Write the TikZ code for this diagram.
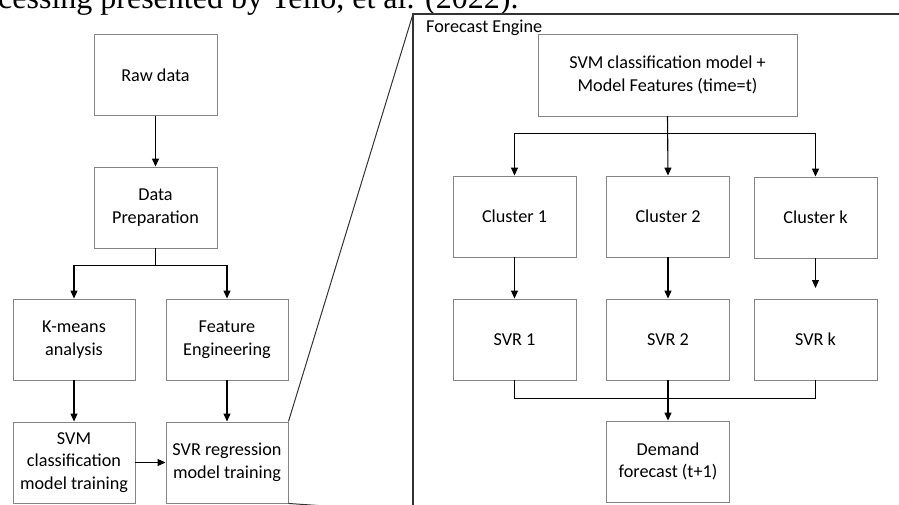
\documentclass[tikz,border=0pt]{standalone}
\usepackage{fontspec}
\setmainfont{Carlito}
\newfontfamily\capfont{Liberation Serif}
\usetikzlibrary{arrows.meta}
\definecolor{boxgray}{HTML}{858585}
\definecolor{framegray}{HTML}{333333}
\tikzset{
  box/.style={draw=boxgray, line width=0.9pt, minimum width=123pt, minimum height=81pt,
    align=center, inner sep=2pt, font=\fontsize{18.2}{22.5}\selectfont},
  arr/.style={draw=black, line width=1.1pt, -{Triangle[length=8pt,width=7pt]}},
  ln/.style={draw=black, line width=1.1pt},
  frm/.style={draw=framegray, line width=1.3pt}
}
\begin{document}
\begin{tikzpicture}[x=1pt,y=-1pt]
\useasboundingbox (0,0) rectangle (899,504);
\clip (0,0) rectangle (899,504);
% caption fragment
\node[anchor=base west, inner sep=0pt, font=\capfont\fontsize{32}{36}\selectfont] (cap) at (-2,8) {cessing presented by Tello, et al. (2022).};
% left column
\node[box] (raw) at (155.5,75) {Raw data};
\node[box] (prep) at (155.5,207.5) {Data\\Preparation};
\node[box, minimum width=122pt] (kmeans) at (74,339.5) {K-means\\analysis};
\node[box, minimum width=122pt] (feat) at (227,339.5) {Feature\\Engineering};
\node[box, minimum width=122pt] (svmc) at (74,462.5) {SVM\\classification\\model training};
\node[box, minimum width=122pt] (svrr) at (227,462.5) {SVR regression\\model training};
\draw[arr] (raw.south) -- (prep.north);
\draw[arr] (prep.south) -- ++(0,17) -| (kmeans.north);
\draw[arr] (prep.south) -- ++(0,17) -| (feat.north);
\draw[arr] (kmeans.south) -- (svmc.north);
\draw[arr] (feat.south) -- (svrr.north);
\draw[arr] (svmc.east) -- (svrr.west);
% forecast engine frame
\coordinate (ftl) at (413,14);
\coordinate (fbl) at (413,512);
\coordinate (ftr) at (905,14);
\draw[frm] (fbl) -- (ftl) -- (ftr);
\draw[frm, line width=1pt] (svrr.north east) -- (ftl);
\draw[frm, line width=1pt] (svrr.south east) -- (fbl);
\node[anchor=base west, inner sep=0pt, font=\fontsize{18.2}{22}\selectfont] (fe) at (426,32) {Forecast Engine};
% right side
\node[box, minimum width=259pt, minimum height=82pt] (svm) at (667.5,75) {SVM classification model +\\Model Features (time=t)};
\node[box] (c1) at (514.5,216.5) {Cluster 1};
\node[box] (c2) at (668,216.5) {Cluster 2};
\node[box] (ck) at (815.5,217.5) {Cluster k};
\node[box] (s1) at (514.5,339.5) {SVR 1};
\node[box] (s2) at (668,339.5) {SVR 2};
\node[box] (sk) at (815.5,339.5) {SVR k};
\node[box] (dem) at (668,461.5) {Demand\\forecast (t+1)};
\draw[arr] (svm.south) -- ++(0,17) -| (c1.north);
\draw[arr] (svm.south) -- (c2.north);
\draw[arr] (svm.south) -- ++(0,17) -| (ck.north);
\draw[arr] (c1.south) -- (s1.north);
\draw[arr] (c2.south) -- (s2.north);
\coordinate (ckend) at (815.5,288);
\draw[arr] (ck.south) -- (ckend);
\draw[ln] (s1.south) -- ++(0,18) -| (sk.south);
\draw[arr] (s2.south) -- (dem.north);
\end{tikzpicture}
\end{document}
